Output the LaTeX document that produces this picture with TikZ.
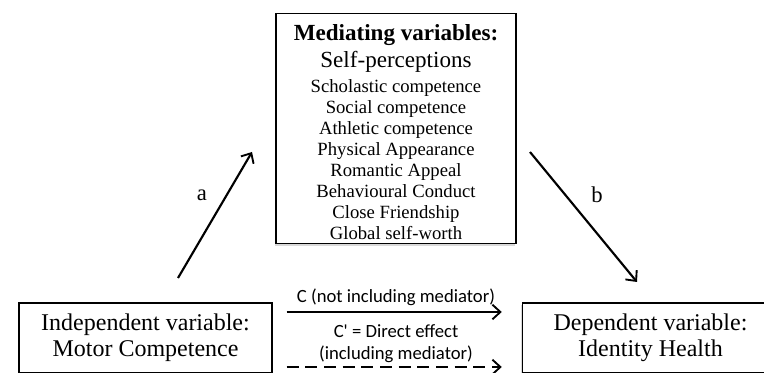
\documentclass[tikz,border=0pt]{standalone}
\usepackage{fontspec}
\setmainfont{Liberation Serif}
\newfontfamily\pathfont{Carlito}
\usepackage{tikz}
\usetikzlibrary{arrows.meta}
\usetikzlibrary{shadows}
\tikzstyle{varbox}=[draw,line width=1.1pt,fill=white,align=center,drop shadow={shadow xshift=-1pt,shadow yshift=-1.5pt,opacity=.3}]
\tikzstyle{effect}=[line width=1.6pt,-{Straight Barb[length=6pt,width=11pt,line width=1.4pt]}]
\tikzstyle{pathlabel}=[font=\pathfont\fontsize{14}{16.5}\selectfont,inner sep=0pt,align=center]

\begin{document}
\begin{tikzpicture}[x=0.75pt,y=-0.75pt]
\useasboundingbox (0,0) rectangle (764,373);
\clip (0,0) rectangle (764,373);
    % mediator
    \node [varbox,minimum width=180pt,minimum height=170.25pt,
      font=\fontsize{14}{15.75}\selectfont] (med) at (396,128.5)
      {\rule{0pt}{17pt}{\fontsize{17.3}{15.75}\selectfont\bfseries Mediating variables:}\\[3pt]
       {\fontsize{17.3}{15.75}\selectfont Self-perceptions}\\[3pt]
       Scholastic competence\\ Social competence\\ Athletic competence\\
       Physical Appearance\\ Romantic Appeal\\ Behavioural Conduct\\
       Close Friendship\\ Global self-worth};
    % independent and dependent
    \node [varbox,minimum width=189.75pt,minimum height=52.5pt,
      font=\fontsize{18}{19.5}\selectfont] (ind) at (145.5,338)
      {Independent variable:\\ Motor Competence};
    \node [varbox,minimum width=192pt,minimum height=52.5pt,
      font=\fontsize{18}{19.5}\selectfont] (dep) at (650.5,338)
      {Dependent variable:\\ Identity Health};
    % paths a and b
    \coordinate (aS) at (178,278);
    \coordinate (aE) at (252,152);
    \coordinate (bS) at (530,152);
    \coordinate (bE) at (637,282);
    \draw [effect] (aS) -- (aE);
    \draw [effect] (bS) -- (bE);
    \node [font=\fontsize{17}{19}\selectfont] (la) at (202,195) {a};
    \node [font=\fontsize{17}{19}\selectfont] (lb) at (597,195) {b};
    % paths c and c'
    \draw [effect,shorten <=10.5pt,shorten >=15pt] ([yshift=19.5pt]ind.east) -- ([yshift=19.5pt]dep.west);
    \draw [effect,dash pattern=on 9pt off 5pt,shorten <=10.5pt,shorten >=15pt] ([yshift=-21.75pt]ind.east) -- ([yshift=-21.75pt]dep.west);
    \node [pathlabel] (lc) at (396,297) {C (not including mediator)};
    \node [pathlabel] (lcp) at (396,344) {C' = Direct effect\\(including mediator)};
\end{tikzpicture}
\end{document}
